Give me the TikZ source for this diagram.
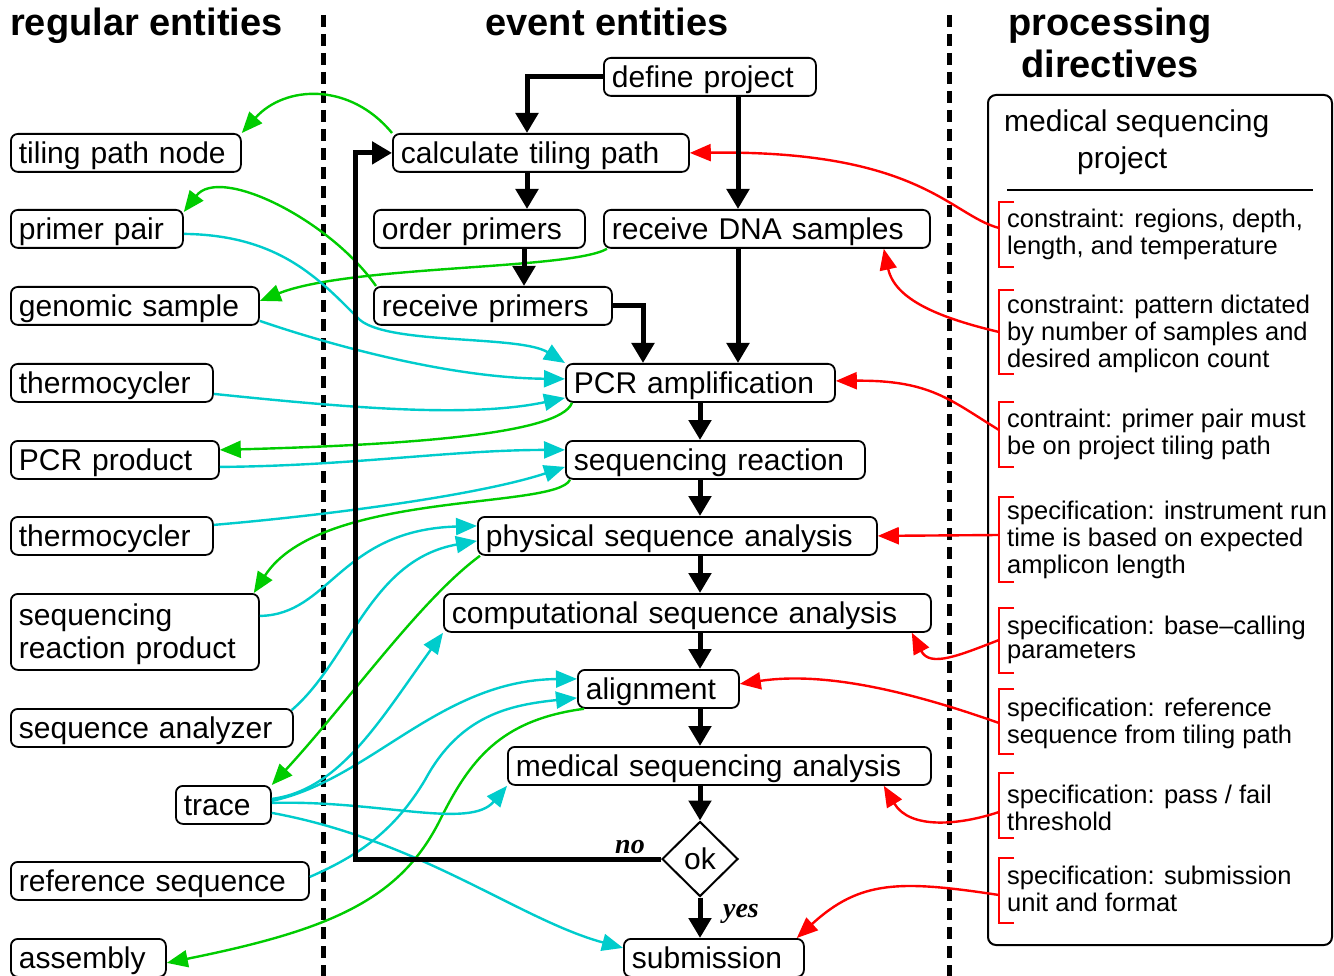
\documentclass[tikz,border=0pt]{standalone}
\usepackage{fontspec}
\setmainfont{Liberation Sans}
\newfontfamily\serifbi{Liberation Serif}
\usetikzlibrary{arrows.meta,shapes.geometric,calc}
\definecolor{cgreen}{RGB}{0,204,0}
\definecolor{ccyan}{RGB}{0,204,204}
\definecolor{cred}{RGB}{255,0,0}
\newcommand{\nodefont}{\fontsize{30}{33}\selectfont}
\newcommand{\consfont}{\fontsize{25.5}{27}\selectfont}
\newcommand{\consfontb}{\fontsize{25.5}{24}\selectfont}
\newcommand{\headfont}{\fontsize{38}{42}\selectfont\bfseries}
\begin{document}
\begin{tikzpicture}[x=1pt,y=-1pt,
  ebox/.style={draw, fill=white, rounded corners=7, line width=1.8, anchor=north west,
    minimum height=38, inner xsep=8, inner ysep=0, text height=26, text depth=5,
    text width=#1, align=left, font=\nodefont},
  headtxt/.style={font=\headfont, inner sep=0},
  constxt/.style={anchor=base west, align=left, inner sep=0, font=\consfont},
  brk/.style={draw=cred, line width=2},
  sepline/.style={line width=5, dash pattern=on 12pt off 7pt},
  flowarrow/.style={line width=5, -{Triangle[length=20pt,width=22pt]}},
  prodarrow/.style={draw=cgreen, line width=2.4, -{Triangle[length=21pt,width=17pt]}},
  inarrow/.style={draw=ccyan, line width=2.4, -{Triangle[length=21pt,width=17pt]}},
  conarrow/.style={draw=cred, line width=2.4, -{Triangle[length=21pt,width=17pt]}},
  lbl/.style={anchor=base, inner sep=0, font={\fontsize{28}{30}\serifbi\bfseries\itshape}}
]
\useasboundingbox (0,0) rectangle (1334,976);

% separators
\draw[sepline] (323,15) -- (323,976);
\draw[sepline] (949,15) -- (949,976);

% headers
\node[headtxt, anchor=base west] (h1) at (10,36) {regular entities};
\node[headtxt, anchor=base] (h2) at (607,36) {event entities};
\node[headtxt, anchor=base, align=center] (h3) at (1110,78) {processing\\directives};

% regular entities
\node[ebox=214] (tpn) at (10,133) {tiling path node};
\node[ebox=156] (pp) at (10,209) {primer pair};
\node[ebox=232] (gs) at (10,286) {genomic sample};
\node[ebox=186] (th1) at (10,363) {thermocycler};
\node[ebox=192] (pcrp) at (10,440) {PCR product};
\node[ebox=186] (th2) at (10,516) {thermocycler};
\node[ebox=232, minimum height=76, text depth=38] (srp) at (10,593) {sequencing\\reaction product};
\node[ebox=266] (sa) at (10,708) {sequence analyzer};
\node[ebox=79] (tr) at (175,785) {trace};
\node[ebox=282] (rs) at (10,861) {reference sequence};
\node[ebox=139] (asm) at (10,938) {assembly};

% event entities
\node[ebox=196] (dp) at (603,57) {define project};
\node[ebox=280] (ctp) at (392,133) {calculate tiling path};
\node[ebox=195] (op) at (373,209) {order primers};
\node[ebox=310] (rdna) at (603,209) {receive DNA samples};
\node[ebox=222] (rp) at (373,286) {receive primers};
\node[ebox=253] (pcr) at (565,363) {PCR amplification};
\node[ebox=283] (seq) at (565,440) {sequencing reaction};
\node[ebox=383] (phys) at (477,516) {physical sequence analysis};
\node[ebox=471] (comp) at (443,593) {computational sequence analysis};
\node[ebox=145] (aln) at (577,669) {alignment};
\node[ebox=407] (med) at (507,746) {medical sequencing analysis};
\node[draw, diamond, fill=white, line width=2, minimum width=76, minimum height=75,
  inner sep=0, font=\nodefont] (ok) at (700,859) {ok};
\node[ebox=164] (sub) at (623,938) {submission};

% processing directives
\draw[line width=2, rounded corners=8] (988,95) rectangle (1332,945);
\node[anchor=base west, align=left, inner sep=0, font=\nodefont] (mt) at (1004,169)
  {medical sequencing\\[4pt]\hspace*{73pt}project};
\draw[line width=2] (1007,190) -- (1313,190);

\node[constxt] (c1) at (1007,255) {constraint: regions, depth,\\length, and temperature};
\node[constxt] (c2) at (1007,367) {constraint: pattern dictated\\by number of samples and\\desired amplicon count};
\node[constxt] (c3) at (1007,454) {contraint: primer pair must\\be on project tiling path};
\node[constxt] (c4) at (1007,573) {specification: instrument run\\time is based on expected\\amplicon length};
\node[constxt, font=\consfontb] (c5) at (1007,658) {specification: base\textendash calling\\parameters};
\node[constxt] (c6) at (1007,743) {specification: reference\\sequence from tiling path};
\node[constxt] (c7) at (1007,830) {specification: pass / fail\\threshold};
\node[constxt] (c8) at (1007,911) {specification: submission\\unit and format};

\draw[brk] (1014,202) -- (999,202) -- (999,267) -- (1014,267);
\draw[brk] (1014,290) -- (999,290) -- (999,374) -- (1014,374);
\draw[brk] (1014,402) -- (999,402) -- (999,467) -- (1014,467);
\draw[brk] (1014,497) -- (999,497) -- (999,582) -- (1014,582);
\draw[brk] (1014,608) -- (999,608) -- (999,673) -- (1014,673);
\draw[brk] (1014,689) -- (999,689) -- (999,754) -- (1014,754);
\draw[brk] (1014,773) -- (999,773) -- (999,838) -- (1014,838);
\draw[brk] (1014,858) -- (999,858) -- (999,923) -- (1014,923);

\coordinate (b1) at (999,228);
\coordinate (b2) at (999,332);
\coordinate (b3) at (999,430);
\coordinate (b4) at (999,535);
\coordinate (b5) at (999,640);
\coordinate (b6) at (999,723);
\coordinate (b7) at (999,812);
\coordinate (b8) at (999,895);

% helper columns
\coordinate (col1) at (527,0);
\coordinate (col1b) at (524,0);
\coordinate (col2) at (738,0);
\coordinate (col3) at (643,0);
\coordinate (spine) at (700,0);
\coordinate (loopx) at (355,0);

% products (green)
\draw[prodarrow] (ctp.north west) .. controls (350,82) and (285,85) .. (tpn.north east);
\draw[prodarrow] ([xshift=3]rp.north west) .. controls (330,220) and (220,165) .. ([yshift=-3]pp.north east);
\draw[prodarrow] ([xshift=4]rdna.south west) .. controls (570,270) and (350,265) .. ([yshift=5]gs.east);
\draw[prodarrow] ([xshift=7]pcr.south west) .. controls (560,435) and (400,445) .. ([yshift=10]pcrp.east);
\draw[prodarrow] ([xshift=5]seq.south west) .. controls (555,510) and (320,490) .. ([xshift=-6]srp.north east);
\draw[prodarrow] ([xshift=3]phys.south west) .. controls (420,600) and (350,700) .. (tr.north east);
\draw[prodarrow] ([xshift=7]aln.south west) .. controls (500,720) and (470,760) .. (440,820)
  .. controls (400,900) and (330,930) .. ([yshift=-5]asm.east);

% inputs (cyan)
\draw[inarrow] ([yshift=-5]pp.east) .. controls (280,235) and (320,280) .. (360,320)
  .. controls (390,345) and (520,335) .. (pcr.north west);
\draw[inarrow] ([yshift=-15]gs.east) .. controls (330,345) and (450,378) .. ([yshift=4]pcr.west);
\draw[inarrow] ([yshift=-11]th1.east) .. controls (350,408) and (470,418) .. ([yshift=-15]pcr.west);
\draw[inarrow] ([yshift=-7]pcrp.east) .. controls (350,466) and (450,450) .. ([yshift=10]seq.west);
\draw[inarrow] ([yshift=11]th2.east) .. controls (330,515) and (480,495) .. ([yshift=-7]seq.west);
\draw[inarrow] ([yshift=16]srp.east) .. controls (330,615) and (340,530) .. ([yshift=10]phys.west);
\draw[inarrow] ([xshift=-2,yshift=-2]sa.north east) .. controls (350,660) and (370,560) .. ([yshift=-5]phys.west);
\draw[inarrow] ([yshift=6]tr.east) .. controls (340,790) and (380,720) .. (comp.south west);
\draw[inarrow] ([yshift=4]tr.east) .. controls (370,780) and (440,680) .. ([yshift=10]aln.west);
\draw[inarrow] ([yshift=2]tr.east) .. controls (380,800) and (470,830) .. (med.south west);
\draw[inarrow] ([yshift=-8]tr.east) .. controls (420,840) and (520,920) .. ([yshift=10]sub.west);
\draw[inarrow] ([yshift=4]rs.east) .. controls (360,855) and (395,830) .. (425,780)
  .. controls (460,715) and (510,705) .. ([yshift=-9]aln.west);

% constraints (red)
\draw[conarrow] (b1) .. controls (950,215) and (920,150) .. (ctp.east);
\draw[conarrow] (b2) .. controls (940,318) and (895,300) .. ([xshift=-47]rdna.south east);
\draw[conarrow] (b3) .. controls (950,400) and (930,380) .. ([yshift=2]pcr.east);
\draw[conarrow] (b4) -- (phys.east);
\draw[conarrow] (b5) .. controls (960,655) and (930,668) .. ([xshift=-20]comp.south east);
\draw[conarrow] (b6) .. controls (900,688) and (820,672) .. ([yshift=5]aln.east);
\draw[conarrow] (b7) .. controls (960,825) and (910,830) .. ([xshift=-48]med.south east);
\draw[conarrow] (b8) .. controls (900,880) and (860,880) .. ([xshift=-8]sub.north east);

% control flow (black)
\draw[flowarrow] (dp.west) -| (col1 |- ctp.north);
\draw[flowarrow] (dp.south -| col2) -- (rdna.north -| col2);
\draw[flowarrow] (ctp.south -| col1) -- (op.north -| col1);
\draw[flowarrow] (op.south -| col1b) -- (rp.north -| col1b);
\draw[flowarrow] (rp.east) -| (col3 |- pcr.north);
\draw[flowarrow] (rdna.south -| col2) -- (pcr.north -| col2);
\draw[flowarrow] (pcr.south -| spine) -- (seq.north -| spine);
\draw[flowarrow] (seq.south -| spine) -- (phys.north -| spine);
\draw[flowarrow] (phys.south -| spine) -- (comp.north -| spine);
\draw[flowarrow] (comp.south -| spine) -- (aln.north -| spine);
\draw[flowarrow] (aln.south -| spine) -- (med.north -| spine);
\draw[flowarrow] (med.south -| spine) -- (ok.north);
\draw[flowarrow] (ok.south) -- (sub.north -| spine);
\draw[flowarrow] (ok.west) -| (loopx |- ctp.west) -- (ctp.west);
\node[lbl] (no) at (630,853) {no};
\node[lbl] (yes) at (741,917) {yes};
\end{tikzpicture}
\end{document}
